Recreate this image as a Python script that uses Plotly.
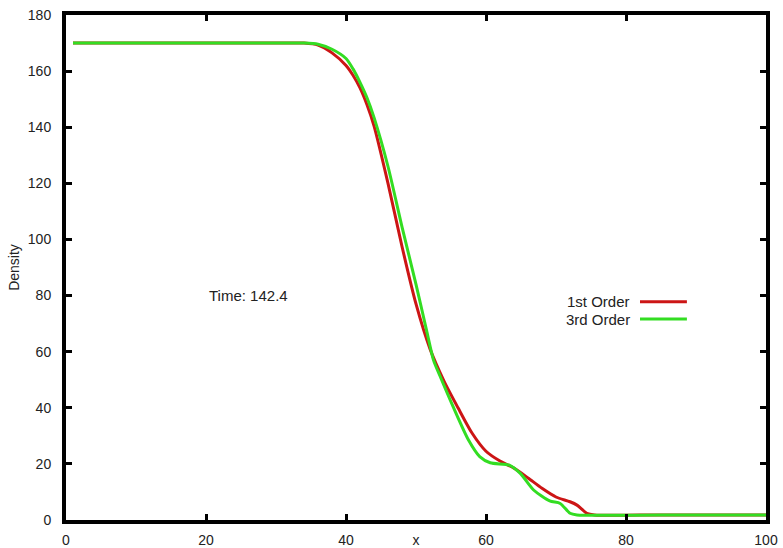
import plotly.graph_objects as go

# Data
x_first = [1, 10, 20, 30, 34, 36, 38, 40, 41, 42, 43, 44, 46, 48, 50, 52, 54, 56, 58, 60, 62, 64, 66, 68, 70, 72, 73, 74.4, 75.5, 85, 100]
y_first = [170, 170, 170, 170, 170, 169.3, 166.5, 162, 158.5, 154, 148, 140.5, 120, 97.5, 77, 61, 49.5, 40, 31, 24.5, 21, 18.5, 15, 11.3, 8.2, 6.5, 5.3, 2.4, 1.8, 1.8, 1.8]

x_third = [1, 10, 20, 30, 34, 36, 38, 40, 41, 42, 43, 44, 46, 48, 50, 51.5, 52.5, 53.4, 55.3, 57.5, 59.1, 60.6, 63.4, 64.9, 66.8, 69.1, 70.6, 72, 73, 85, 100]
y_third = [170, 170, 170, 170, 170, 169.6, 167.8, 164.5, 160.8, 156, 150.5, 143.5, 126, 104.5, 84, 67.7, 57, 51.5, 40.4, 28.5, 22.6, 20.4, 19.5, 16.6, 10.7, 6.8, 5.9, 2.4, 1.8, 1.8, 1.8]

series_names = ["1st Order", "3rd Order"]
series_colors = ["#cc1515", "#33dd22"]

x_ticks = [0, 20, 40, 60, 80, 100]
y_ticks = [0, 20, 40, 60, 80, 100, 120, 140, 160, 180]

time_label = "Time: 142.4"

FONT = "Liberation Sans, Arial, sans-serif"

fig = go.Figure()
fig.add_trace(go.Scatter(x=x_first, y=y_first, mode="lines", name=series_names[0],
                         line=dict(color=series_colors[0], width=3, shape="spline", smoothing=0.7)))
fig.add_trace(go.Scatter(x=x_third, y=y_third, mode="lines", name=series_names[1],
                         line=dict(color=series_colors[1], width=3, shape="spline", smoothing=0.7)))

axis_common = dict(showgrid=False, zeroline=False, showline=True, linecolor="black", linewidth=4,
                   mirror="ticks", ticks="inside", ticklen=6, tickwidth=3, tickcolor="black",
                   automargin=False, ticklabeloverflow="allow",
                   tickfont=dict(family=FONT, size=14, color="#222"))

fig.update_xaxes(range=[0, 100], tickvals=x_ticks, ticklabelstandoff=4,
                 title=dict(text="x", font=dict(family=FONT, size=14, color="#222"), standoff=0),
                 **axis_common)
fig.update_yaxes(range=[0, 180], tickvals=y_ticks, ticklabelstandoff=8,
                 title=dict(text="Density", font=dict(family=FONT, size=14, color="#222"), standoff=6),
                 **axis_common)

# Legend drawn gnuplot-style: text then sample line
leg_y = [0.432, 0.398]
for name, color, yy in zip(series_names, series_colors, leg_y):
    fig.add_annotation(x=0.808, y=yy, xref="paper", yref="paper", text=name, showarrow=False,
                       xanchor="right", yanchor="middle", font=dict(family=FONT, size=15, color="#222"))
    fig.add_shape(type="line", xref="paper", yref="paper", x0=0.82, x1=0.887, y0=yy, y1=yy,
                  line=dict(color=color, width=3))

fig.add_annotation(x=0.2604, y=0.445, xref="paper", yref="paper", text=time_label, showarrow=False,
                   xanchor="center", yanchor="middle", font=dict(family=FONT, size=15, color="#222"))

fig.update_layout(width=783, height=548, margin=dict(l=66, r=17, t=15, b=28),
                  plot_bgcolor="white", paper_bgcolor="white", showlegend=False)

fig.write_html("out.html", config={"displayModeBar": False},
               post_script="document.body.style.margin='0px';document.body.style.overflow='hidden';")
